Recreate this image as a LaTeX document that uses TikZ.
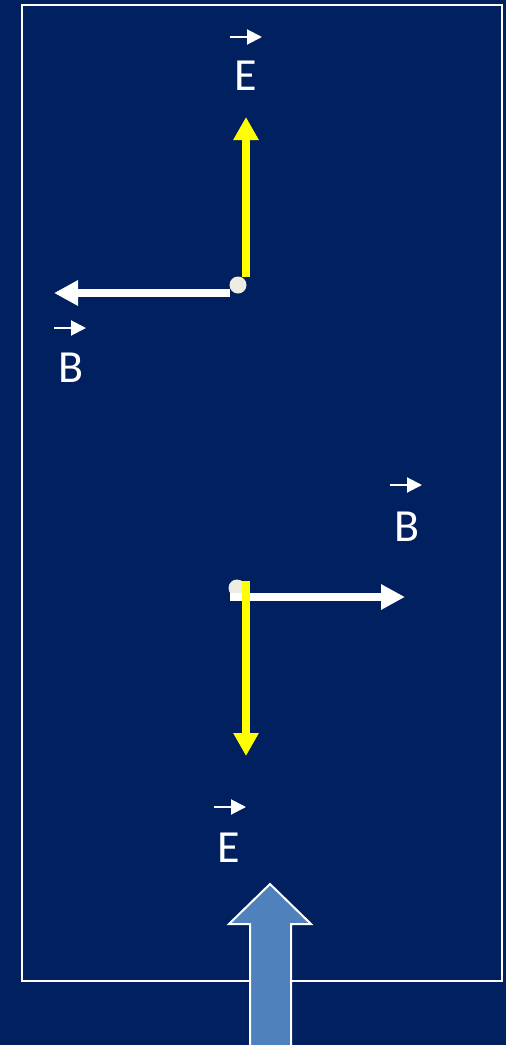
\documentclass[tikz,border=0pt]{standalone}
\usepackage{fontspec}
\setmainfont{Carlito}
\usetikzlibrary{arrows.meta}
\definecolor{navy}{HTML}{002060}
\definecolor{dotgray}{HTML}{EEECE1}
\definecolor{beamblue}{HTML}{4F81BD}
\definecolor{fieldyellow}{HTML}{FFFF00}
\tikzset{
  label text/.style={text=white, inner sep=0pt, font=\fontsize{46}{52}\selectfont},
  vec/.style={white, line width=2pt, -{Triangle[length=15pt,width=15pt]}},
  efield/.style={fieldyellow, line width=8pt, -{Triangle[length=23pt,width=24pt]}},
  bfield/.style={white, line width=8pt, -{Triangle[length=24pt,width=24pt]}},
  charge/.style={circle, fill=dotgray, minimum size=17pt, inner sep=0pt},
}
\begin{document}
\begin{tikzpicture}[x=1pt,y=-1pt]
  \useasboundingbox (0,0) rectangle (506,1045);
  \clip (0,0) rectangle (506,1045);
  \fill[navy] (0,0) rectangle (506,1045);

  % wave region outline
  \draw[white, line width=2pt] (22,5) rectangle (502,981);

  % upper point: E up, B left
  \coordinate (eTopStart) at (246,277);
  \coordinate (eTopEnd) at (246,117);
  \coordinate (bLeftStart) at (230,293);
  \coordinate (bLeftEnd) at (54,293);
  \draw[bfield] (bLeftStart) -- (bLeftEnd);
  \draw[efield] (eTopStart) -- (eTopEnd);
  \node[charge] (p1) at (238,285) {};

  % lower point: E down, B right
  \node[charge] (p2) at (237,588) {};
  \coordinate (bRightStart) at (230,597);
  \coordinate (bRightEnd) at (405,597);
  \coordinate (eBotStart) at (246,581);
  \coordinate (eBotEnd) at (246,756);
  \draw[bfield] (bRightStart) -- (bRightEnd);
  \draw[efield] (eBotStart) -- (eBotEnd);

  % vector labels
  \node[label text] (E1) at (245.5,76) {E};
  \coordinate (vE1a) at (230,37);
  \coordinate (vE1b) at (262,37);
  \draw[vec] (vE1a) -- (vE1b);

  \node[label text] (B1) at (71,368) {B};
  \coordinate (vB1a) at (54,328);
  \coordinate (vB1b) at (86,328);
  \draw[vec] (vB1a) -- (vB1b);

  \node[label text] (B2) at (407,527) {B};
  \coordinate (vB2a) at (390,485);
  \coordinate (vB2b) at (422,485);
  \draw[vec] (vB2a) -- (vB2b);

  \node[label text] (E2) at (229,848) {E};
  \coordinate (vE2a) at (214,807);
  \coordinate (vE2b) at (246,807);
  \draw[vec] (vE2a) -- (vE2b);

  % propagation direction
  \draw[white, line width=2pt, fill=beamblue]
    (270,884) -- (311,924) -- (291,924) -- (291,1050)
    -- (250,1050) -- (250,924) -- (229,924) -- cycle;
\end{tikzpicture}
\end{document}
